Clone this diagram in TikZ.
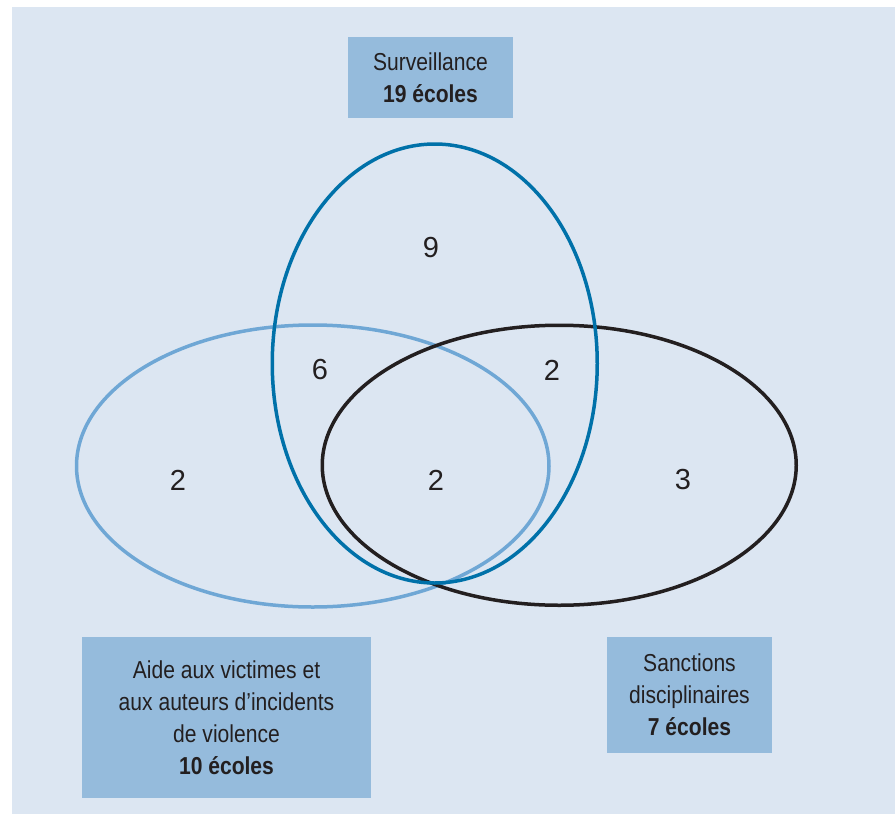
\documentclass[tikz,border=0pt]{standalone}
\usepackage{fontspec}
\setmainfont{Liberation Sans}
\newfontfamily\boxfont[FakeStretch=0.86]{Liberation Sans}
\definecolor{bgcol}{RGB}{220,230,242}
\definecolor{boxcol}{RGB}{149,187,220}
\definecolor{survcol}{RGB}{0,113,169}
\definecolor{aidecol}{RGB}{111,167,213}
\definecolor{sanccol}{RGB}{35,31,32}
\definecolor{txtcol}{RGB}{35,31,32}
\tikzset{
  labelbox/.style={fill=boxcol, text=txtcol, align=center, inner sep=0pt,
    font={\boxfont\fontsize{24.5}{32}\selectfont}},
  count/.style={text=txtcol, font={\fontsize{29}{34}\selectfont}, inner sep=0pt},
  ring/.style={line width=3.5pt}
}
\begin{document}
\begin{tikzpicture}[x=1pt,y=-1pt]
\useasboundingbox (0,0) rectangle (895,814);
\fill[white] (0,0) rectangle (895,814);
\fill[bgcol] (12,7) rectangle (895,814);
% ellipses
\draw[ring, aidecol] (312.75,466) ellipse [x radius=236.25, y radius=141];
\draw[ring, sanccol] (559.25,465.25) ellipse [x radius=237, y radius=140];
\draw[ring, survcol] (434.75,363.5) ellipse [x radius=162.5, y radius=219.5];
% counts
\node[count] (n9) at (431,248) {9};
\node[count] (n6) at (320,370) {6};
\node[count] (n2a) at (552,370) {2};
\node[count] (n2b) at (178,480) {2};
\node[count] (n2c) at (436,480) {2};
\node[count] (n3) at (683,480) {3};
% label boxes
\node[labelbox, minimum width=165pt, minimum height=81pt] (surv) at (430.5,77.5)
  {Surveillance\\\textbf{19 écoles}};
\node[labelbox, minimum width=289pt, minimum height=161pt] (aide) at (226.5,717.5)
  {Aide aux victimes et\\aux auteurs d’incidents\\de violence\\\textbf{10 écoles}};
\node[labelbox, minimum width=165pt, minimum height=116pt] (sanc) at (689.5,695)
  {Sanctions\\disciplinaires\\\textbf{7 écoles}};
\end{tikzpicture}
\end{document}
